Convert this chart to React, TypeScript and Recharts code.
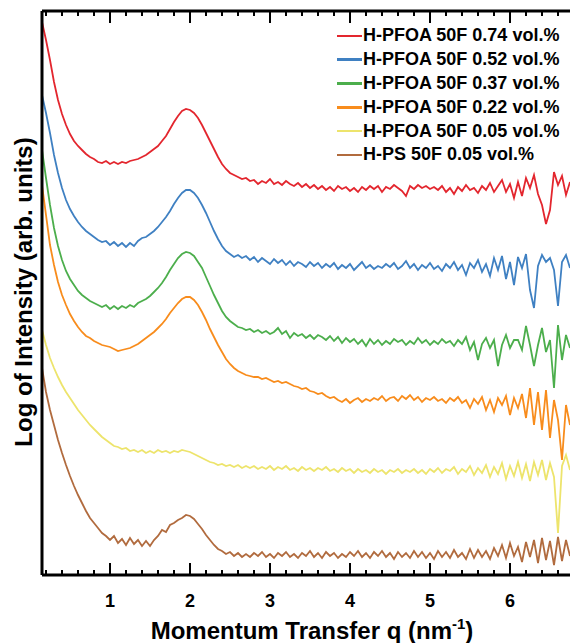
import { Label, Legend, Line, LineChart, XAxis, YAxis } from 'recharts'

// momentum transfer q (nm^-1), shared by every curve
const q = [
  0.15, 0.2, 0.25, 0.3, 0.35, 0.4, 0.45, 0.5, 0.55, 0.6, 0.65, 0.7, 0.75, 0.8, 0.85, 0.9, 0.95, 1, 1.05, 1.1,
  1.15, 1.2, 1.25, 1.3, 1.35, 1.4, 1.45, 1.5, 1.55, 1.6, 1.65, 1.7, 1.75, 1.8, 1.85, 1.9, 1.95, 2, 2.05, 2.1,
  2.15, 2.2, 2.25, 2.3, 2.35, 2.4, 2.45, 2.5, 2.55, 2.6, 2.65, 2.7, 2.75, 2.8, 2.85, 2.9, 2.95, 3, 3.05, 3.1,
  3.15, 3.2, 3.25, 3.3, 3.35, 3.4, 3.45, 3.5, 3.55, 3.6, 3.65, 3.7, 3.75, 3.8, 3.85, 3.9, 3.95, 4, 4.05, 4.1,
  4.15, 4.2, 4.25, 4.3, 4.35, 4.4, 4.45, 4.5, 4.55, 4.6, 4.65, 4.7, 4.75, 4.8, 4.85, 4.9, 4.95, 5, 5.05, 5.1,
  5.15, 5.2, 5.25, 5.3, 5.35, 5.4, 5.45, 5.5, 5.55, 5.6, 5.65, 5.7, 5.75, 5.8, 5.85, 5.9, 5.95, 6, 6.05, 6.1,
  6.15, 6.2, 6.25, 6.3, 6.35, 6.4, 6.45, 6.5, 6.55, 6.6, 6.65, 6.7, 6.75,
]

// log intensity, offset curves (arb. units)
const pfoa074 = [
  5.53, 5.35, 5.15, 4.93, 4.75, 4.61, 4.5, 4.41, 4.34, 4.29,
  4.25, 4.21, 4.18, 4.16, 4.13, 4.12, 4.14, 4.11, 4.13, 4.11,
  4.13, 4.12, 4.14, 4.15, 4.16, 4.18, 4.2, 4.23, 4.26, 4.29,
  4.34, 4.39, 4.46, 4.53, 4.59, 4.64, 4.66, 4.65, 4.62, 4.57,
  4.5, 4.42, 4.34, 4.26, 4.18, 4.11, 4.06, 4.02, 4.0, 3.98,
  3.96, 3.97, 3.94, 3.95, 3.91, 3.94, 3.92, 3.96, 3.91, 3.93,
  3.9, 3.94, 3.91, 3.89, 3.92, 3.88, 3.91, 3.87, 3.9, 3.86,
  3.89, 3.85, 3.88, 3.84, 3.89, 3.86, 3.88, 3.84, 3.87, 3.83,
  3.88, 3.85, 3.89, 3.86, 3.89, 3.83, 3.88, 3.86, 3.9, 3.87,
  3.84, 3.79, 3.89, 3.86, 3.9, 3.87, 3.89, 3.86, 3.88, 3.85,
  3.89, 3.83, 3.87, 3.81, 3.88, 3.84, 3.9, 3.85, 3.87, 3.82,
  3.89, 3.85, 3.92, 3.83, 3.89, 3.95, 3.83, 3.91, 3.77, 3.93,
  3.79, 3.97, 3.87, 4.0, 3.81, 3.7, 3.51, 3.65, 4.03, 3.9,
  3.99, 3.8, 3.93,
]
const pfoa052 = [
  4.8, 4.62, 4.42, 4.2, 4.02, 3.87, 3.75, 3.66, 3.59, 3.53,
  3.48, 3.44, 3.41, 3.38, 3.35, 3.33, 3.34, 3.3, 3.33, 3.29,
  3.32, 3.28, 3.32, 3.29, 3.34, 3.37, 3.38, 3.41, 3.44, 3.48,
  3.53, 3.58, 3.64, 3.71, 3.77, 3.82, 3.85, 3.85, 3.82, 3.77,
  3.7, 3.62, 3.53, 3.44, 3.36, 3.29, 3.24, 3.21, 3.18, 3.2,
  3.17, 3.19, 3.15, 3.18, 3.13, 3.17, 3.14, 3.11, 3.16, 3.12,
  3.15, 3.1, 3.14, 3.09, 3.13, 3.11, 3.08, 3.13, 3.09, 3.12,
  3.07, 3.11, 3.08, 3.12, 3.06, 3.1, 3.07, 3.11, 3.05, 3.09,
  3.13, 3.07, 3.1, 3.06, 3.09, 3.07, 3.11, 3.08, 3.12, 3.06,
  3.09, 3.14, 3.07, 3.11, 3.05, 3.1, 3.07, 3.12, 3.06, 3.09,
  3.04, 3.11, 3.07, 3.13, 3.05, 3.1, 3.0, 3.12, 3.07, 3.15,
  3.03, 3.11, 2.99, 3.17, 3.05, 3.19, 2.96, 3.13, 2.9, 3.18,
  3.07, 3.21, 2.85, 2.67, 3.09, 3.2, 3.13, 3.17, 3.05, 2.69,
  3.13, 3.2, 3.07,
]
const pfoa037 = [
  4.25, 3.97, 3.7, 3.47, 3.29, 3.15, 3.04, 2.96, 2.9, 2.84,
  2.8, 2.77, 2.74, 2.72, 2.7, 2.68, 2.7, 2.66, 2.69, 2.66,
  2.69, 2.67, 2.7, 2.68, 2.72, 2.74, 2.76, 2.79, 2.83, 2.87,
  2.92, 2.98, 3.05, 3.11, 3.17, 3.21, 3.23, 3.22, 3.19, 3.13,
  3.07, 2.98, 2.89, 2.8, 2.72, 2.64, 2.58, 2.54, 2.51, 2.48,
  2.47, 2.45, 2.46, 2.43, 2.45, 2.42, 2.44, 2.41, 2.43, 2.47,
  2.41, 2.44, 2.37, 2.42, 2.39, 2.41, 2.37, 2.4, 2.36, 2.4,
  2.38, 2.35, 2.39, 2.34, 2.38, 2.32, 2.37, 2.33, 2.36, 2.31,
  2.35, 2.29, 2.36, 2.31, 2.35, 2.3, 2.34, 2.31, 2.36, 2.33,
  2.35, 2.3, 2.34, 2.31, 2.37, 2.32, 2.35, 2.3, 2.34, 2.31,
  2.36, 2.32, 2.34, 2.29, 2.35, 2.31, 2.38, 2.25, 2.33, 2.15,
  2.31, 2.37, 2.27, 2.35, 2.09, 2.3, 2.4, 2.27, 2.35, 2.35,
  2.25, 2.49, 2.3, 2.09, 2.3, 2.47, 2.23, 2.35, 1.87, 2.5,
  2.15, 2.4, 2.27,
]
const pfoa022 = [
  3.9, 3.6, 3.3, 3.1, 2.93, 2.8, 2.7, 2.61, 2.54, 2.48,
  2.43, 2.39, 2.37, 2.34, 2.32, 2.3, 2.29, 2.28, 2.26, 2.24,
  2.25, 2.26, 2.27, 2.29, 2.31, 2.34, 2.37, 2.4, 2.43, 2.47,
  2.51, 2.56, 2.62, 2.67, 2.72, 2.76, 2.78, 2.78, 2.75, 2.7,
  2.63, 2.55, 2.46, 2.38, 2.3, 2.23, 2.16, 2.11, 2.07, 2.04,
  2.02, 2.0, 1.99, 1.98, 1.98, 1.96, 1.97, 1.95, 1.93, 1.94,
  1.92, 1.93, 1.91, 1.89, 1.88, 1.86, 1.87, 1.84, 1.83, 1.81,
  1.82, 1.79, 1.77, 1.78, 1.75, 1.73, 1.76, 1.72, 1.75, 1.77,
  1.73, 1.76, 1.74, 1.77, 1.75, 1.79, 1.74, 1.77, 1.78, 1.74,
  1.79, 1.76, 1.8, 1.75, 1.78, 1.73, 1.77, 1.75, 1.78, 1.74,
  1.76, 1.72, 1.77, 1.74, 1.78, 1.72, 1.75, 1.67, 1.76, 1.71,
  1.78, 1.65, 1.75, 1.63, 1.77, 1.7, 1.79, 1.6, 1.77, 1.67,
  1.81, 1.57, 1.87, 1.5, 1.83, 1.45, 1.85, 1.37, 1.75, 1.55,
  1.15, 1.7, 1.5,
]
const pfoa005 = [
  2.45, 2.3, 2.17, 2.07, 1.98, 1.9, 1.83, 1.77, 1.71, 1.65,
  1.6, 1.55, 1.5, 1.46, 1.42, 1.38, 1.35, 1.32, 1.29, 1.28,
  1.26, 1.27, 1.24, 1.25, 1.23, 1.25, 1.22, 1.24, 1.22, 1.25,
  1.23, 1.24, 1.22, 1.24, 1.23, 1.25, 1.24, 1.23, 1.21, 1.19,
  1.17, 1.15, 1.13, 1.12, 1.1, 1.11, 1.09, 1.1, 1.08, 1.1,
  1.07, 1.09, 1.07, 1.09, 1.06, 1.08, 1.06, 1.09, 1.05, 1.08,
  1.06, 1.09, 1.05, 1.07, 1.04, 1.08, 1.05, 1.07, 1.04, 1.07,
  1.05, 1.08, 1.04, 1.06, 1.03, 1.07, 1.04, 1.06, 1.02, 1.06,
  1.03, 1.05, 1.02, 1.06, 1.03, 1.05, 1.01, 1.05, 1.03, 1.06,
  1.02, 1.05, 1.03, 1.06, 1.02, 1.05, 1.01, 1.06, 1.03, 1.07,
  1.02, 1.06, 1.04, 1.08, 1.01, 1.06, 1.03, 1.09, 1.0, 1.07,
  1.02, 1.1, 0.98, 1.08, 1.01, 1.12, 0.96, 1.09, 0.99, 1.13,
  0.97, 1.11, 0.94, 1.13, 1.0, 1.15, 0.95, 1.12, 0.98, 0.42,
  1.09, 1.2, 1.05,
]
const ps005 = [
  2.07, 1.83, 1.65, 1.5, 1.35, 1.22, 1.1, 0.99, 0.89, 0.8,
  0.72, 0.64, 0.57, 0.52, 0.47, 0.42, 0.39, 0.35, 0.39, 0.32,
  0.36, 0.3, 0.37, 0.31, 0.35, 0.29, 0.34, 0.29, 0.35, 0.39,
  0.45, 0.43, 0.5, 0.52, 0.55, 0.57, 0.6, 0.59, 0.56, 0.51,
  0.46, 0.4, 0.35, 0.3, 0.26, 0.24, 0.21, 0.23, 0.19, 0.22,
  0.18, 0.21, 0.18, 0.22, 0.19, 0.23, 0.18, 0.21, 0.17, 0.22,
  0.19, 0.23, 0.18, 0.21, 0.17, 0.22, 0.19, 0.24, 0.18, 0.22,
  0.17, 0.23, 0.19, 0.22, 0.17, 0.21, 0.18, 0.23, 0.19, 0.24,
  0.18, 0.22, 0.17, 0.23, 0.19, 0.24, 0.18, 0.22, 0.16, 0.23,
  0.18, 0.22, 0.17, 0.24, 0.18, 0.23, 0.17, 0.22, 0.16, 0.24,
  0.18, 0.23, 0.17, 0.25, 0.18, 0.22, 0.16, 0.26, 0.17, 0.25,
  0.18, 0.24, 0.16, 0.27, 0.19, 0.3, 0.17, 0.32, 0.19, 0.28,
  0.13, 0.33, 0.18, 0.35, 0.12, 0.37, 0.15, 0.34, 0.1, 0.38,
  0.14, 0.35, 0.19,
]

const qTicks = [
  0.2, 0.4, 0.6, 0.8, 1, 1.2, 1.4, 1.6, 1.8, 2, 2.2, 2.4, 2.6, 2.8, 3, 3.2, 3.4,
  3.6, 3.8, 4, 4.2, 4.4, 4.6, 4.8, 5, 5.2, 5.4, 5.6, 5.8, 6, 6.2, 6.4, 6.6,
]

const series = [
  { key: 'pfoa074', name: 'H-PFOA 50F 0.74 vol.%', color: '#e3262e', values: pfoa074 },
  { key: 'pfoa052', name: 'H-PFOA 50F 0.52 vol.%', color: '#3f80c2', values: pfoa052 },
  { key: 'pfoa037', name: 'H-PFOA 50F 0.37 vol.%', color: '#4cae4c', values: pfoa037 },
  { key: 'pfoa022', name: 'H-PFOA 50F 0.22 vol.%', color: '#f88c1c', values: pfoa022 },
  { key: 'pfoa005', name: 'H-PFOA 50F 0.05 vol.%', color: '#ede46c', values: pfoa005 },
  { key: 'ps005', name: 'H-PS 50F 0.05 vol.%', color: '#b16b3e', values: ps005 },
]

const data = q.map((x, i) => {
  const row: Record<string, number> = { q: x }
  series.forEach((s) => {
    row[s.key] = s.values[i]
  })
  return row
})

const FONT = 'Arial, "Liberation Sans", sans-serif'

const isMajor = (v: number) => Math.abs(v - Math.round(v)) < 1e-6

function BottomTick(props: any) {
  const { x, y, payload } = props
  const major = isMajor(payload.value)
  return (
    <g>
      <line x1={x} x2={x} y1={y} y2={y - (major ? 12 : 5)} stroke="#000" strokeWidth={2} />
      {major && (
        <text x={x} y={y + 32} textAnchor="middle" fontSize={18} fontWeight="bold" fontFamily={FONT} fill="#000">
          {Math.round(payload.value)}
        </text>
      )}
    </g>
  )
}

function TopTick(props: any) {
  const { x, y, payload } = props
  const major = isMajor(payload.value)
  return <line x1={x} x2={x} y1={y} y2={y + (major ? 12 : 5)} stroke="#000" strokeWidth={2} />
}

function XTitle(props: any) {
  const vb = props.viewBox || { x: 42, y: 575, width: 528 }
  return (
    <text
      x={vb.x + vb.width / 2 + 6}
      y={vb.y + 64}
      textAnchor="middle"
      fontSize={24}
      fontWeight="bold"
      fontFamily={FONT}
      fill="#000"
    >
      Momentum Transfer q (nm
      <tspan dy={-10} fontSize={15}>-1</tspan>
      <tspan dy={10}>)</tspan>
    </text>
  )
}

function YTitle(props: any) {
  const vb = props.viewBox || { x: 0, y: 11, width: 42, height: 564 }
  const cx = vb.x + 32
  const cy = vb.y + vb.height / 2 - 1
  return (
    <text
      x={cx}
      y={cy}
      transform={`rotate(-90, ${cx}, ${cy})`}
      textAnchor="middle"
      fontSize={24}
      fontWeight="bold"
      fontFamily={FONT}
      fill="#000"
    >
      Log of Intensity (arb. units)
    </text>
  )
}

function LegendBox() {
  return (
    <div style={{ fontFamily: FONT }}>
      {series.map((s) => (
        <div key={s.key} style={{ display: 'flex', alignItems: 'center', height: 23.8 }}>
          <span style={{ display: 'inline-block', width: 25, height: 2.5, background: s.color, marginRight: 1 }} />
          <span style={{ fontSize: 18, fontWeight: 'bold', color: '#000', whiteSpace: 'nowrap' }}>{s.name}</span>
        </div>
      ))}
    </div>
  )
}

export default function App() {
  return (
    <div style={{ position: 'absolute', left: 0, top: 0, width: 570, height: 643, overflow: 'hidden', background: '#fff' }}>
      <LineChart width={570} height={643} data={data} margin={{ top: 0, right: 0, bottom: 0, left: 0 }}>
        <XAxis
          xAxisId="top"
          orientation="top"
          type="number"
          dataKey="q"
          domain={[0.15, 6.75]}
          allowDataOverflow
          ticks={qTicks}
          interval={0}
          height={11}
          tickSize={0}
          tickMargin={0}
          tickLine={false}
          tick={<TopTick />}
          axisLine={{ stroke: '#000', strokeWidth: 3 }}
        />
        <XAxis
          type="number"
          dataKey="q"
          domain={[0.15, 6.75]}
          allowDataOverflow
          ticks={qTicks}
          interval={0}
          height={68}
          tickSize={0}
          tickMargin={0}
          tickLine={false}
          tick={<BottomTick />}
          axisLine={{ stroke: '#000', strokeWidth: 3 }}
        >
          <Label content={<XTitle />} />
        </XAxis>
        <YAxis
          type="number"
          domain={[0, 5.64]}
          allowDataOverflow
          width={42}
          tick={false}
          tickLine={false}
          axisLine={{ stroke: '#000', strokeWidth: 3 }}
        >
          <Label content={<YTitle />} />
        </YAxis>
        <Legend
          layout="vertical"
          align="center"
          verticalAlign="middle"
          wrapperStyle={{ top: 24, left: 337, width: 230 }}
          content={() => <LegendBox />}
        />
        {series.map((s) => (
          <Line
            key={s.key}
            type="linear"
            dataKey={s.key}
            name={s.name}
            stroke={s.color}
            strokeWidth={1.8}
            dot={false}
            isAnimationActive={false}
          />
        ))}
      </LineChart>
    </div>
  )
}
